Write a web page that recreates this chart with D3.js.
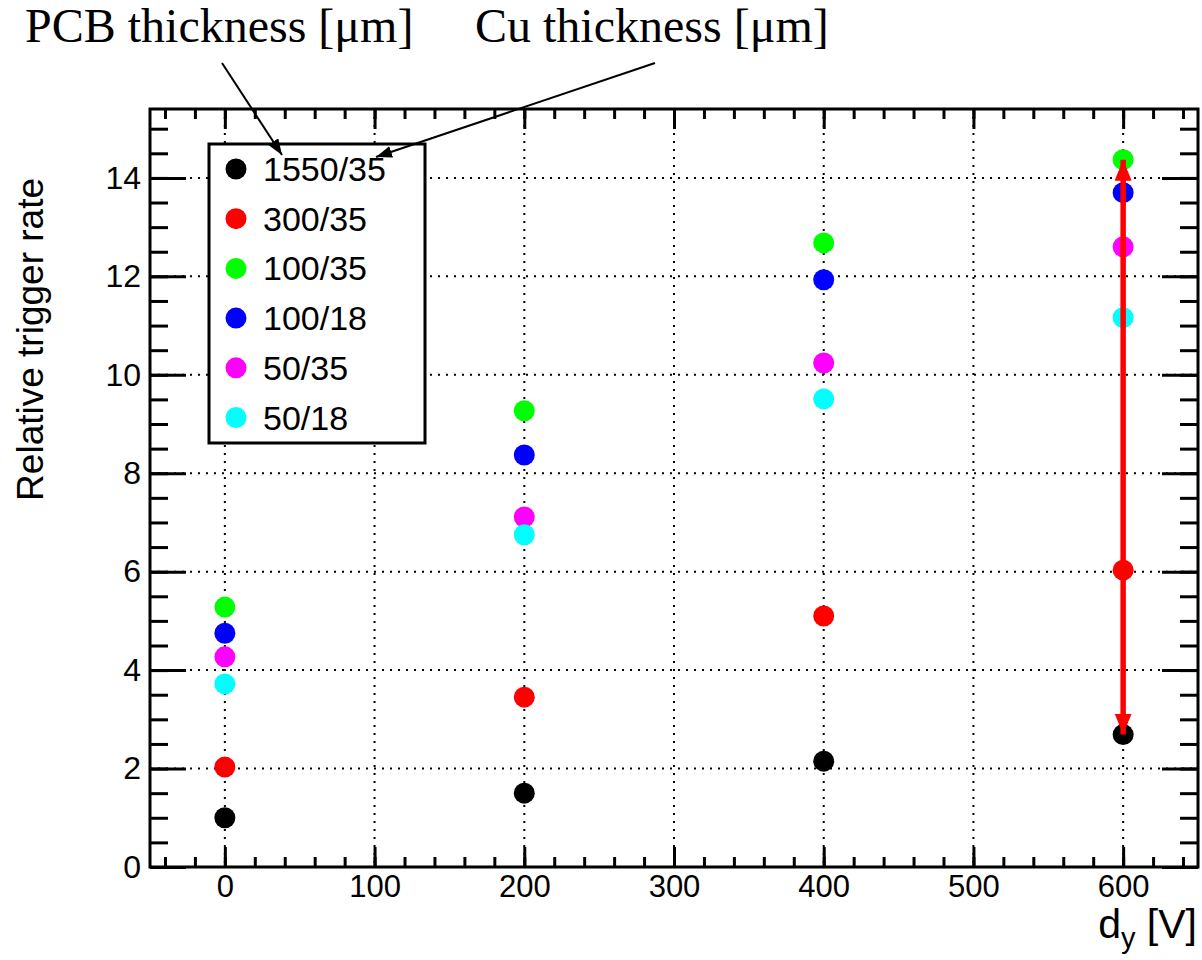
<head>
<meta charset="utf-8">
<style>
body { margin: 0; background: #fff; }
svg text { font-family: "Liberation Sans", Arial, sans-serif; fill: #000; }
.grid line { stroke: #000; stroke-width: 2; stroke-dasharray: 2,6; }
.axis path { display: none; }
.axis line { stroke: #000; stroke-width: 3; }
.note { font-family: "Liberation Serif", "Times New Roman", serif; font-size: 48px; }
</style>
<script src="https://d3js.org/d3.v7.min.js"></script>
</head>
<body>
<div id="chart"></div>
<script>

// values
var voltages = [0, 200, 400, 600];
var labels = ["1550/35", "300/35", "100/35", "100/18", "50/35", "50/18"];
var colors = ["#000000", "#ff0000", "#00ff00", "#0000ff", "#ff00ff", "#00ffff"];
var rate1550_35 = [1.00, 1.50, 2.15, 2.69];
var rate300_35 = [2.03, 3.45, 5.10, 6.03];
var rate100_35 = [5.28, 9.27, 12.68, 14.37];
var rate100_18 = [4.75, 8.37, 11.93, 13.70];
var rate50_35 = [4.27, 7.11, 10.24, 12.60];
var rate50_18 = [3.72, 6.75, 9.51, 11.16];
var xTicks = [0, 100, 200, 300, 400, 500, 600];
var yTicks = [0, 2, 4, 6, 8, 10, 12, 14];
var spreadAt = 600, spreadRange = [2.69, 14.37];

var series = [rate1550_35, rate300_35, rate100_35, rate100_18, rate50_35, rate50_18];

var W = 1202, H = 960;
var mL = 150, mR = 1198, mT = 109, mB = 867;

var x = d3.scaleLinear().domain([-50, 650]).range([mL, mR]);
var y = d3.scaleLinear().domain([0, 15.4]).range([mB, mT]);

var svg = d3.select("#chart").append("svg")
    .attr("width", W)
    .attr("height", H);

var defs = svg.append("defs");
function arrowMarker(id, color, w, l) {
  defs.append("marker")
      .attr("id", id)
      .attr("viewBox", "0 0 " + l + " " + w)
      .attr("refX", l).attr("refY", w / 2)
      .attr("markerUnits", "userSpaceOnUse")
      .attr("markerWidth", l).attr("markerHeight", w)
      .attr("orient", "auto-start-reverse")
    .append("path")
      .attr("d", "M0,0L" + l + "," + (w / 2) + "L0," + w + "Z")
      .attr("fill", color);
}
arrowMarker("redhead", "#ff0000", 17, 21);
arrowMarker("blackhead", "#000", 12, 16);

// grid
svg.append("g").attr("class", "grid")
  .selectAll("line").data(xTicks).enter().append("line")
    .attr("x1", function(d) { return x(d); }).attr("x2", function(d) { return x(d); })
    .attr("y1", mT).attr("y2", mB);
svg.append("g").attr("class", "grid")
  .selectAll("line").data(yTicks.slice(1)).enter().append("line")
    .attr("x1", mL).attr("x2", mR)
    .attr("y1", function(d) { return y(d); }).attr("y2", function(d) { return y(d); });

// ticks on all four sides, pointing in
var xMinor = d3.range(-40, 650, 20);
var yMinor = d3.range(0.5, 15.4, 0.5);

svg.append("g").attr("class", "axis").attr("transform", "translate(0," + mB + ")")
    .call(d3.axisBottom(x).tickValues(xMinor).tickSize(-10).tickFormat(""));
svg.append("g").attr("class", "axis").attr("transform", "translate(0," + mB + ")")
    .call(d3.axisBottom(x).tickValues(xTicks).tickSize(-20).tickPadding(8))
    .selectAll("text").style("font-size", "31px");
svg.append("g").attr("class", "axis").attr("transform", "translate(0," + mT + ")")
    .call(d3.axisTop(x).tickValues(xMinor).tickSize(-10).tickFormat(""));
svg.append("g").attr("class", "axis").attr("transform", "translate(0," + mT + ")")
    .call(d3.axisTop(x).tickValues(xTicks).tickSize(-20).tickFormat(""));

svg.append("g").attr("class", "axis").attr("transform", "translate(" + mL + ",0)")
    .call(d3.axisLeft(y).tickValues(yMinor).tickSize(-18).tickFormat(""));
svg.append("g").attr("class", "axis").attr("transform", "translate(" + mL + ",0)")
    .call(d3.axisLeft(y).tickValues(yTicks).tickSize(-36).tickPadding(9))
    .selectAll("text").style("font-size", "32px");
svg.append("g").attr("class", "axis").attr("transform", "translate(" + mR + ",0)")
    .call(d3.axisRight(y).tickValues(yMinor).tickSize(-18).tickFormat(""));
svg.append("g").attr("class", "axis").attr("transform", "translate(" + mR + ",0)")
    .call(d3.axisRight(y).tickValues(yTicks).tickSize(-36).tickFormat(""));

svg.selectAll(".axis text").attr("fill", "#000");

// frame
svg.append("rect")
    .attr("x", mL).attr("y", mT)
    .attr("width", mR - mL).attr("height", mB - mT)
    .attr("fill", "none").attr("stroke", "#000").attr("stroke-width", 3);

// points
series.forEach(function(vals, i) {
  svg.append("g").selectAll("circle")
    .data(vals).enter().append("circle")
      .attr("cx", function(d, j) { return x(voltages[j]); })
      .attr("cy", function(d) { return y(d); })
      .attr("r", 10.5)
      .attr("fill", colors[i]);
});

// red double arrow showing the spread at 600 V
svg.append("line")
    .attr("x1", x(spreadAt)).attr("x2", x(spreadAt))
    .attr("y1", y(spreadRange[0])).attr("y2", y(spreadRange[1]))
    .attr("stroke", "#ff0000").attr("stroke-width", 5.5)
    .attr("marker-start", "url(#redhead)")
    .attr("marker-end", "url(#redhead)");

// axis titles
svg.append("text")
    .attr("transform", "translate(43,178) rotate(-90)")
    .attr("text-anchor", "end")
    .style("font-size", "37px")
    .text("Relative trigger rate");

var xt = svg.append("text")
    .attr("x", 1197).attr("y", 938)
    .attr("text-anchor", "end")
    .style("font-size", "41px");
xt.append("tspan").text("d");
xt.append("tspan").attr("dy", 10).style("font-size", "29px").text("y");
xt.append("tspan").attr("dy", -10).text(" [V]");

// legend
var lg = svg.append("g");
lg.append("rect")
    .attr("x", 209).attr("y", 144).attr("width", 216).attr("height", 299)
    .attr("fill", "#fff").attr("stroke", "#000").attr("stroke-width", 3);
labels.forEach(function(name, i) {
  var ry = 169 + i * 49.7;
  lg.append("circle").attr("cx", 236).attr("cy", ry).attr("r", 10.5).attr("fill", colors[i]);
  lg.append("text").attr("x", 263).attr("y", ry + 12)
      .style("font-size", "34px").text(name);
});

// annotations
svg.append("text").attr("class", "note").attr("x", 25).attr("y", 42).text("PCB thickness [μm]");
svg.append("text").attr("class", "note").attr("x", 475).attr("y", 42).text("Cu thickness [μm]");

svg.append("line")
    .attr("x1", 222).attr("y1", 63).attr("x2", 282).attr("y2", 155)
    .attr("stroke", "#000").attr("stroke-width", 2)
    .attr("marker-end", "url(#blackhead)");
svg.append("line")
    .attr("x1", 655).attr("y1", 63).attr("x2", 376).attr("y2", 157)
    .attr("stroke", "#000").attr("stroke-width", 2)
    .attr("marker-end", "url(#blackhead)");

</script>
</body>
